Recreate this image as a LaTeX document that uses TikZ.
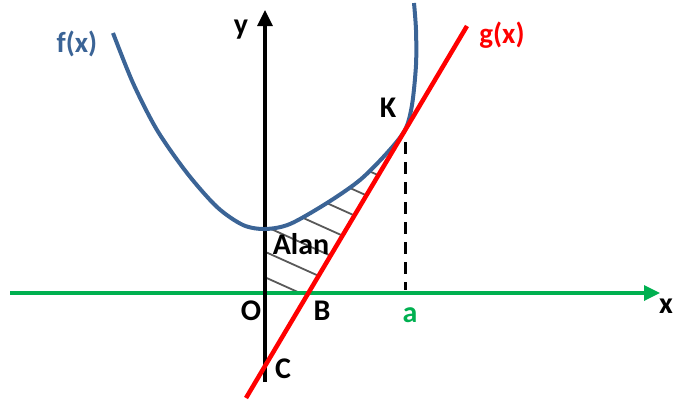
\documentclass[tikz,border=0pt]{standalone}
\usepackage{fontspec}
\setmainfont{Carlito}
\usepackage{xcolor}
\usepackage{tikz}
\usetikzlibrary{calc,arrows.meta}

\definecolor{fblue}{RGB}{59,100,150}
\definecolor{xgreen}{RGB}{0,176,80}

\begin{document}
\begin{tikzpicture}[
  x=1pt, y=-1pt,
  >={Triangle[width=15pt,length=16pt]},
  axis/.style={->,line width=3.3pt},
  lab/.style={font=\fontsize{30}{34}\selectfont\bfseries,inner sep=0pt},
  fun/.style={font=\fontsize{29}{33}\selectfont\bfseries,inner sep=0pt},
  hatch/.style={line width=1.8pt,black!65},
  fcurve/.style={line width=4pt,fblue},
  gline/.style={line width=4.5pt,red}
]
\useasboundingbox (0,0) rectangle (699,408);

\coordinate (O) at (265,293);
\coordinate (B) at (308,293);
\coordinate (K) at (405,130);
\coordinate (A) at (405,290);
\coordinate (Ktop) at (265,130);

% shaded area between f, g and the axes
\begin{scope}
  \clip (O) -- (B) -- (K) -- (Ktop) -- cycle;
  \clip plot[smooth] coordinates {(113,33) (133,83) (157,130) (187,173) (217,207) (243,225) (265,229) (290,224) (327,203) (360,180) (387,153) (405,130) (412,105) (416,65) (416,30) (414,3)}
    -- (416,300) -- (113,300) -- cycle;
  \foreach \c in {5,30.5,...,160}
    \draw[hatch] (255,{\c+114.75}) -- (420,{\c+189});
\end{scope}

% axes
\coordinate (xs) at (10,293);
\coordinate (xe) at (660,293);
\coordinate (ys) at (265,382);
\coordinate (ye) at (265,10);
\draw[axis,xgreen] (xs) -- (xe);
\draw[axis,black] (ys) -- (ye);

% f and g
\draw[fcurve] plot[smooth] coordinates {(113,33) (133,83) (157,130) (187,173) (217,207) (243,225) (265,229) (290,224) (327,203) (360,180) (387,153) (405,130) (412,105) (416,65) (416,30) (414,3)};
\coordinate (gs) at (246,398);
\coordinate (ge) at (467,26);
\draw[gline] (gs) -- (ge);

\draw[line width=3pt,dash pattern=on 12pt off 8pt] ($(K)+(0,12)$) -- (A);

% labels
\node[fun,text=fblue] (lf) at (77,44) {f(x)};
\node[fun,text=red] (lg) at (502,35) {g(x)};
\node[lab] (ly) at (241,30) {y};
\node[lab] (lx) at (666,306) {x};
\node[lab] (lK) at (388,108) {K};
\node[lab] (lAlan) at (301,244) {Alan};
\node[lab] (lO) at (251,311) {O};
\node[lab] (lB) at (322,311) {B};
\node[lab,text=xgreen] (la) at (410,315) {a};
\node[lab] (lC) at (283,369) {C};
\end{tikzpicture}
\end{document}
